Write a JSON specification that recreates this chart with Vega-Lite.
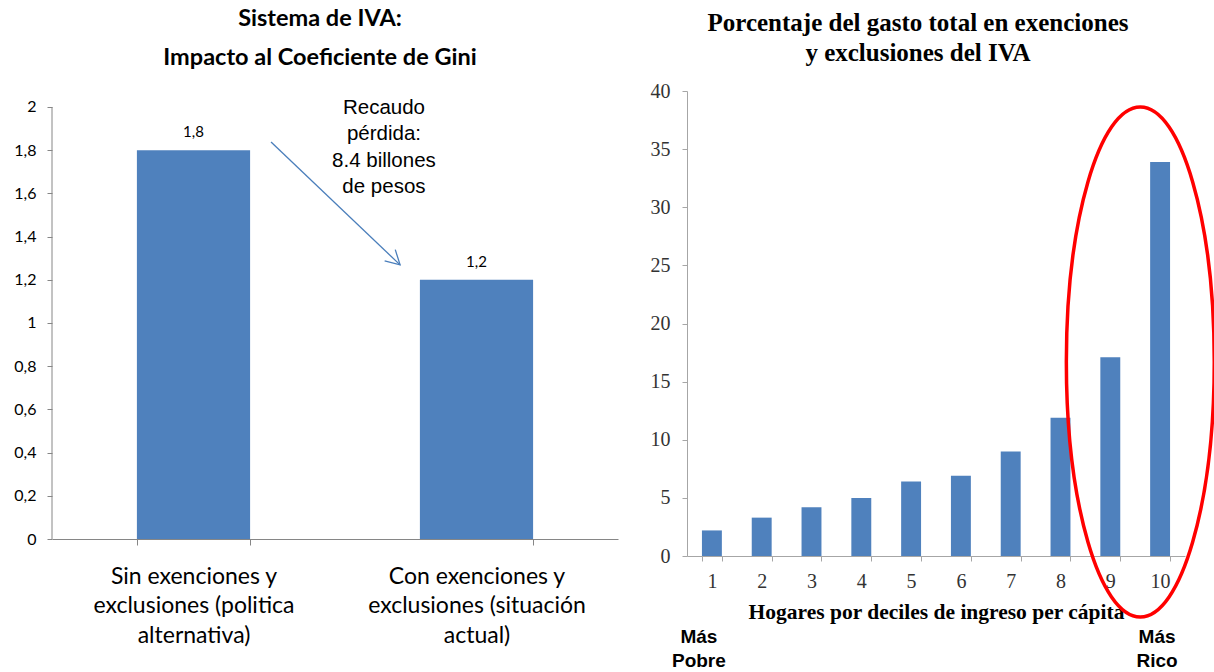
{
  "$schema": "https://vega.github.io/schema/vega-lite/v6.json",
  "padding": {"left": 13, "top": 6, "right": 0, "bottom": 0},
  "background": "#ffffff",
  "spacing": 32,
  "config": {"view": {"stroke": null}, "axis": {"grid": false}},
  "hconcat": [
    {
      "width": 566,
      "height": 448,
      "title": {"text": ["Sistema de IVA:", "Impacto al Coeficiente de Gini"], "font": "Lato", "fontSize": 23.5, "fontWeight": "bold", "lineHeight": 39, "color": "#000000", "anchor": "middle", "dx": -15, "offset": 22},
      "layer": [
        {
          "data": {"values": [
            {"escenario": "Sin exenciones y|exclusiones (politica|alternativa)", "gini": 1.8, "etiqueta": "1,8"},
            {"escenario": "Con exenciones y|exclusiones (situación|actual)", "gini": 1.2, "etiqueta": "1,2"}
          ]},
          "encoding": {
            "x": {"field": "escenario", "type": "nominal", "sort": null,
              "scale": {"paddingInner": 0.6, "paddingOuter": 0.3},
              "axis": {"title": null, "labelAngle": 0, "labelExpr": "split(datum.label, '|')", "labelFont": "Lato", "labelFontSize": 23, "labelLineHeight": 29.5, "labelColor": "#000000", "labelPadding": 20, "labelLimit": 0, "tickBand": "extent", "tickSize": 6, "tickColor": "#868686", "domainColor": "#868686"}},
            "y": {"field": "gini", "type": "quantitative", "scale": {"domain": [0, 2.074], "nice": false},
              "axis": {"title": null, "domain": false, "values": [0, 0.2, 0.4, 0.6, 0.8, 1, 1.2, 1.4, 1.6, 1.8, 2], "labelExpr": "replace(format(datum.value, '.1~f'), '.', ',')", "labelFont": "Lato", "labelFontSize": 16, "labelColor": "#000000", "labelPadding": 11, "tickSize": 5, "tickColor": "#868686"}}
          },
          "layer": [
            {"mark": {"type": "bar", "color": "#4f81bd"}},
            {"mark": {"type": "text", "font": "Lato", "fontSize": 15, "baseline": "alphabetic", "dy": -13, "color": "#000000"},
             "encoding": {"text": {"field": "etiqueta"}}}
          ]
        },
        {
          "data": {"values": [
            {"x_inicio": 0.774, "y_inicio": 1.838, "x_fin": 1.23, "y_fin": 1.269, "texto_x": 1.173, "texto_y": 1.968, "texto": "Recaudo|pérdida:|8.4 billones|de pesos", "eje_x": 0, "eje_min": 0, "eje_max": 2}
          ]},
          "layer": [
            {"mark": {"type": "rule", "color": "#868686", "strokeWidth": 1},
             "encoding": {
               "x": {"field": "eje_x", "type": "quantitative", "scale": {"domain": [0, 2], "nice": false, "zero": false}, "axis": null},
               "y": {"field": "eje_min", "type": "quantitative"},
               "y2": {"field": "eje_max"}
             }},
            {"mark": {"type": "rule", "color": "#4a7ebb", "strokeWidth": 1.3},
             "encoding": {
               "x": {"field": "x_inicio", "type": "quantitative", "scale": {"domain": [0, 2], "nice": false, "zero": false}, "axis": null},
               "y": {"field": "y_inicio", "type": "quantitative"},
               "x2": {"field": "x_fin"},
               "y2": {"field": "y_fin"}
             }},
            {"mark": {"type": "point", "shape": "M -1 -0.55 L 0 0 L -1 0.55", "filled": false, "stroke": "#4a7ebb", "strokeWidth": 1.3, "size": 784, "angle": 43.6, "opacity": 1},
             "encoding": {
               "x": {"field": "x_fin", "type": "quantitative", "scale": {"domain": [0, 2], "nice": false, "zero": false}, "axis": null},
               "y": {"field": "y_fin", "type": "quantitative"}
             }},
            {"mark": {"type": "text", "font": "Liberation Sans", "fontSize": 20.5, "lineHeight": 26.5, "lineBreak": "|", "align": "center", "baseline": "alphabetic", "color": "#000000"},
             "encoding": {
               "x": {"field": "texto_x", "type": "quantitative", "scale": {"domain": [0, 2], "nice": false, "zero": false}, "axis": null},
               "y": {"field": "texto_y", "type": "quantitative"},
               "text": {"field": "texto"}
             }}
          ]
        }
      ],
      "resolve": {"scale": {"x": "independent"}}
    },
    {
      "width": 498,
      "height": 465,
      "title": {"text": ["Porcentaje del gasto total en exenciones", "y exclusiones del IVA"], "font": "Liberation Serif", "fontSize": 25, "fontWeight": "bold", "lineHeight": 30, "color": "#000000", "anchor": "middle", "dx": -18, "offset": 15},
      "encoding": {
        "x": {"field": "decil", "type": "ordinal",
          "scale": {"domain": [1, 2, 3, 4, 5, 6, 7, 8, 9, 10], "paddingInner": 0.6, "paddingOuter": 0.3},
          "axis": {"title": "Hogares por deciles de ingreso per cápita", "titleFont": "Liberation Serif", "titleFontSize": 21.5, "titleFontWeight": "bold", "titleColor": "#000000", "titlePadding": 10, "labelAngle": 0, "labelFont": "Liberation Serif", "labelFontSize": 20, "labelColor": "#333333", "labelPadding": 10, "tickBand": "extent", "tickSize": 5, "tickColor": "#a6a6a6", "domainColor": "#a6a6a6"}},
        "y": {"type": "quantitative", "scale": {"domain": [0, 40]},
          "axis": {"title": null, "values": [0, 5, 10, 15, 20, 25, 30, 35, 40], "labelFont": "Liberation Serif", "labelFontSize": 20, "labelColor": "#333333", "labelPadding": 12, "tickSize": 5, "tickColor": "#a6a6a6", "domainColor": "#a6a6a6"}}
      },
      "layer": [
        {
          "data": {"values": [
            {"decil": 1, "porcentaje": 2.2},
            {"decil": 2, "porcentaje": 3.3},
            {"decil": 3, "porcentaje": 4.2},
            {"decil": 4, "porcentaje": 5.0},
            {"decil": 5, "porcentaje": 6.4},
            {"decil": 6, "porcentaje": 6.9},
            {"decil": 7, "porcentaje": 9.0},
            {"decil": 8, "porcentaje": 11.9},
            {"decil": 9, "porcentaje": 17.1},
            {"decil": 10, "porcentaje": 33.9}
          ]},
          "mark": {"type": "bar", "color": "#4f81bd"},
          "encoding": {"y": {"field": "porcentaje"}}
        },
        {
          "data": {"values": [{"decil": 9, "centro": 16.69}]},
          "mark": {"type": "point", "shape": "M 0 -1 A 0.29 1 0 0 1 0 1 A 0.29 1 0 0 1 0 -1 Z", "filled": false, "stroke": "#ff0000", "strokeWidth": 3.5, "size": 260100, "xOffset": 30, "opacity": 1},
          "encoding": {"y": {"field": "centro"}}
        },
        {
          "data": {"values": [{"decil": 1, "nivel": -6.97, "texto": "Más|Pobre"}]},
          "mark": {"type": "text", "font": "Liberation Sans", "fontSize": 19, "fontWeight": "bold", "lineBreak": "|", "lineHeight": 24, "align": "center", "baseline": "middle", "dx": -13, "color": "#000000"},
          "encoding": {"y": {"field": "nivel"}, "text": {"field": "texto"}}
        },
        {
          "data": {"values": [{"decil": 10, "nivel": -6.97, "texto": "Más|Rico"}]},
          "mark": {"type": "text", "font": "Liberation Sans", "fontSize": 19, "fontWeight": "bold", "lineBreak": "|", "lineHeight": 24, "align": "center", "baseline": "middle", "dx": -3, "color": "#000000"},
          "encoding": {"y": {"field": "nivel"}, "text": {"field": "texto"}}
        }
      ]
    }
  ]
}
